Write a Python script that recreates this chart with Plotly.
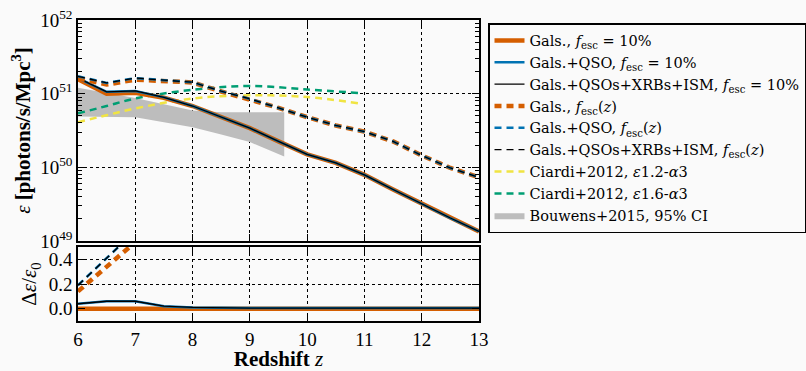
import plotly.graph_objects as go

# ---------------- data ----------------
z = [6, 6.5, 7, 7.5, 8, 8.5, 9, 9.5, 10, 10.5, 11, 11.5, 12, 12.5, 13]
gals_10 = [1.57e51, 1.0e51, 1.03e51, 8.8e50, 6.8e50, 4.8e50, 3.4e50, 2.25e50,
           1.5e50, 1.15e50, 7.9e49, 5.0e49, 3.2e49, 2.05e49, 1.35e49]
qso_10 = [1.63e51, 1.06e51, 1.09e51, 8.9e50, 6.8e50, 4.8e50, 3.4e50, 2.25e50,
          1.5e50, 1.15e50, 7.9e49, 5.0e49, 3.2e49, 2.05e49, 1.35e49]
all_10 = [1.63e51, 1.06e51, 1.09e51, 8.9e50, 6.8e50, 4.8e50, 3.4e50, 2.25e50,
          1.5e50, 1.15e50, 7.9e49, 5.0e49, 3.2e49, 2.05e49, 1.35e49]
gals_fz = [1.62e51, 1.33e51, 1.55e51, 1.5e51, 1.42e51, 1.07e51, 8.4e50, 6.4e50,
           4.8e50, 3.7e50, 3.05e50, 2.25e50, 1.45e50, 9.8e49, 7.3e49]
qso_fz = [1.72e51, 1.4e51, 1.63e51, 1.52e51, 1.43e51, 1.08e51, 8.5e50, 6.4e50,
          4.8e50, 3.7e50, 3.05e50, 2.25e50, 1.45e50, 9.8e49, 7.3e49]
all_fz = [1.72e51, 1.4e51, 1.63e51, 1.52e51, 1.43e51, 1.08e51, 8.5e50, 6.4e50,
          4.8e50, 3.7e50, 3.05e50, 2.25e50, 1.45e50, 9.8e49, 7.3e49]

c_z = [6, 6.5, 7, 8, 9, 10, 10.9]
ciardi_12 = [4.1e50, 5.1e50, 6.3e50, 8.6e50, 9.5e50, 9.0e50, 7.4e50]
ciardi_16 = [5.4e50, 6.8e50, 8.6e50, 1.13e51, 1.27e51, 1.14e51, 1.02e51]

b_z = [6, 6.5, 7, 7.5, 8, 8.5, 9, 9.6]
bouwens_hi = [1.2e51, 1.02e51, 8.7e50, 7.2e50, 5.9e50, 5.6e50, 5.6e50, 5.6e50]
bouwens_lo = [4.9e50, 4.85e50, 4.8e50, 4.1e50, 3.5e50, 2.8e50, 2.2e50, 1.4e50]

# relative differences (bottom panel)
d_gals_10 = [0.0] * 15
d_qso_10 = [0.04, 0.06, 0.06, 0.02, 0.01, 0.005, 0.005, 0.005, 0.005, 0.005,
            0.005, 0.005, 0.005, 0.005, 0.005]
d_all_10 = [0.04, 0.06, 0.06, 0.02, 0.01, 0.005, 0.005, 0.005, 0.005, 0.005,
            0.005, 0.005, 0.005, 0.005, 0.005]
dz_f = [6, 6.5, 7]
d_gals_fz = [0.14, 0.34, 0.54]
d_qso_fz = [0.19, 0.41, 0.63]
d_all_fz = [0.19, 0.41, 0.63]

x_ticks = [6, 7, 8, 9, 10, 11, 12, 13]
y_major = [1e49, 1e50, 1e51, 1e52]
y_major_text = ["10<sup>49</sup>", "10<sup>50</sup>", "10<sup>51</sup>", "10<sup>52</sup>"]
y2_ticks = [0.0, 0.2, 0.4]
y2_text = ["0.0", "0.2", "0.4"]

# ---------------- style ----------------
ORANGE = "#d55e00"
BLUE = "#0072b2"
GREEN = "#009e73"
YELLOW = "#f0e442"
GREY = "#bdbdbd"
BG = "#fafafa"
FONT = "Liberation Serif"
LFONT = "DejaVu Serif"
DASH = "7px,5px"
FESC = "<i>f</i><sub>esc</sub>"

fig = go.Figure()

# Bouwens band
fig.add_trace(go.Scatter(x=b_z, y=bouwens_lo, mode="lines", line=dict(width=0, color=GREY),
                         showlegend=False, hoverinfo="skip"))
fig.add_trace(go.Scatter(x=b_z, y=bouwens_hi, mode="lines", fill="tonexty", fillcolor=GREY,
                         line=dict(width=0, color=GREY), name="Bouwens+2015, 95% CI",
                         legendrank=9))

# Ciardi
fig.add_trace(go.Scatter(x=c_z, y=ciardi_12, mode="lines", line=dict(color=YELLOW, width=2.5, dash=DASH, shape="spline"),
                         name="Ciardi+2012, <i>ε</i>1.2-<i>α</i>3", legendrank=7))
fig.add_trace(go.Scatter(x=c_z, y=ciardi_16, mode="lines", line=dict(color=GREEN, width=2.5, dash=DASH, shape="spline"),
                         name="Ciardi+2012, <i>ε</i>1.6-<i>α</i>3", legendrank=8))

# solid lines
fig.add_trace(go.Scatter(x=z, y=gals_10, mode="lines", line=dict(color=ORANGE, width=4.5),
                         name="Gals., " + FESC + " = 10%", legendrank=1))
fig.add_trace(go.Scatter(x=z, y=qso_10, mode="lines", line=dict(color=BLUE, width=2.5),
                         name="Gals.+QSO, " + FESC + " = 10%", legendrank=2))
fig.add_trace(go.Scatter(x=z, y=all_10, mode="lines", line=dict(color="black", width=1.3),
                         name="Gals.+QSOs+XRBs+ISM, " + FESC + " = 10%", legendrank=3))
# dashed lines
fig.add_trace(go.Scatter(x=z, y=gals_fz, mode="lines", line=dict(color=ORANGE, width=4.5, dash=DASH),
                         name="Gals., " + FESC + "(<i>z</i>)", legendrank=4))
fig.add_trace(go.Scatter(x=z, y=qso_fz, mode="lines", line=dict(color=BLUE, width=2.5, dash=DASH),
                         name="Gals.+QSO, " + FESC + "(<i>z</i>)", legendrank=5))
fig.add_trace(go.Scatter(x=z, y=all_fz, mode="lines", line=dict(color="black", width=1.3, dash=DASH),
                         name="Gals.+QSOs+XRBs+ISM, " + FESC + "(<i>z</i>)", legendrank=6))

# bottom panel
fig.add_trace(go.Scatter(x=z, y=d_gals_10, mode="lines", line=dict(color=ORANGE, width=4.5),
                         showlegend=False, xaxis="x2", yaxis="y2"))
fig.add_trace(go.Scatter(x=z, y=d_qso_10, mode="lines", line=dict(color=BLUE, width=2.5),
                         showlegend=False, xaxis="x2", yaxis="y2"))
fig.add_trace(go.Scatter(x=z, y=d_all_10, mode="lines", line=dict(color="black", width=1.3),
                         showlegend=False, xaxis="x2", yaxis="y2"))
fig.add_trace(go.Scatter(x=dz_f, y=d_gals_fz, mode="lines", line=dict(color=ORANGE, width=4.5, dash=DASH),
                         showlegend=False, xaxis="x2", yaxis="y2"))
fig.add_trace(go.Scatter(x=dz_f, y=d_qso_fz, mode="lines", line=dict(color=BLUE, width=2.5, dash=DASH),
                         showlegend=False, xaxis="x2", yaxis="y2"))
fig.add_trace(go.Scatter(x=dz_f, y=d_all_fz, mode="lines", line=dict(color="black", width=1.3, dash=DASH),
                         showlegend=False, xaxis="x2", yaxis="y2"))

W, H = 806, 371
x0, x1 = 78 / W, 479 / W
axis_common = dict(showline=True, linecolor="black", linewidth=1.5, mirror="ticks",
                   ticks="inside", tickcolor="black", tickwidth=1, ticklen=7,
                   showgrid=True, gridcolor="black", gridwidth=1, griddash="dot",
                   zeroline=False, automargin=False,
                   tickfont=dict(family=FONT, size=19, color="black"))

fig.update_layout(
    width=W, height=H,
    margin=dict(l=0, r=0, t=0, b=0, autoexpand=False),
    paper_bgcolor=BG, plot_bgcolor=BG,
    font=dict(family=FONT, color="black"),
    showlegend=True,
    legend=dict(x=488 / W, y=1 - 23 / H, xanchor="left", yanchor="top",
                bgcolor=BG, bordercolor="black", borderwidth=1.5,
                traceorder="normal",
                font=dict(family=LFONT, size=14.5, color="black"),
                tracegroupgap=0, itemwidth=30),
    xaxis=dict(domain=[x0, x1], anchor="y", range=[6, 13], tickvals=x_ticks,
               showticklabels=False, **axis_common),
    yaxis=dict(domain=[1 - 241 / H, 1 - 20 / H], anchor="x", type="log", range=[49, 52],
               tickmode="array", tickvals=y_major, ticktext=y_major_text,
               minor=dict(dtick="D1", ticks="inside", ticklen=4, tickwidth=1,
                          tickcolor="black", showgrid=False),
               title=dict(text="<i>ε</i> <b>[photons/s/Mpc<sup>3</sup>]</b>",
                          font=dict(family=FONT, size=21), standoff=4),
               **axis_common),
    xaxis2=dict(domain=[x0, x1], anchor="y2", range=[6, 13], tickvals=x_ticks,
                matches="x",
                title=dict(text="<b>Redshift</b> <i>z</i>", font=dict(family=FONT, size=21), standoff=4),
                **axis_common),
    yaxis2=dict(domain=[1 - 321 / H, 1 - 247 / H], anchor="x2", range=[-0.1, 0.5],
                tickmode="array", tickvals=y2_ticks, ticktext=y2_text,
                title=dict(text="Δ<i>ε</i>/<i>ε</i><sub>0</sub>",
                           font=dict(family=FONT, size=21), standoff=6),
                **axis_common),
)

fig.write_html("out.html")
